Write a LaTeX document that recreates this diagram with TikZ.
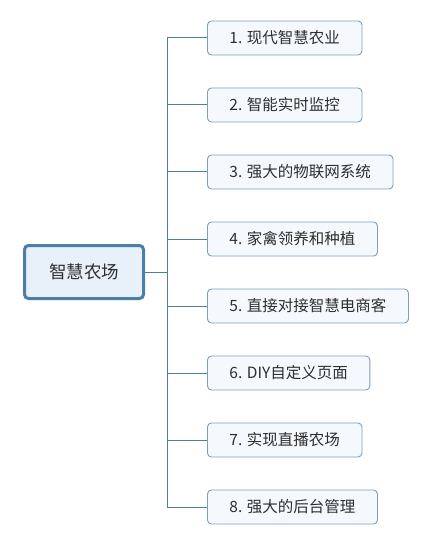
\documentclass[tikz,border=0pt]{standalone}
\usepackage{fontspec}
\setmainfont{Noto Sans CJK SC}
\usetikzlibrary{positioning}
\definecolor{rootline}{HTML}{4A7FA8}
\definecolor{rootfill}{HTML}{E8F1FA}
\definecolor{leafline}{HTML}{7E9FB8}
\definecolor{leaffill}{HTML}{F5F9FD}
\definecolor{wire}{HTML}{4F7F9A}
\definecolor{ink}{HTML}{2E2E2E}

\begin{document}
\begin{tikzpicture}[x=1pt,y=-1pt,font=\fontsize{15.5}{18}\selectfont,text=ink]
  \tikzset{rootbox/.style={draw=rootline,line width=3pt,fill=rootfill,rounded corners=4pt,minimum width=119pt,minimum height=53pt,font=\fontsize{17.5}{20}\selectfont}}
  \tikzset{leafbox/.style={draw=leafline,line width=0.9pt,fill=leaffill,rounded corners=4pt,minimum height=34pt,inner xsep=22pt,anchor=west}}
  \useasboundingbox (0,0) rectangle (430,545);
  \node[rootbox] (farm) at (84,272) {智慧农场};
  \coordinate (hub) at (167,272);
  \node[leafbox] (modern) at (207,38) {1. 现代智慧农业};
  \node[leafbox] (monitor) at (207,105) {2. 智能实时监控};
  \node[leafbox] (iot) at (207,172) {3. 强大的物联网系统};
  \node[leafbox] (poultry) at (207,239) {4. 家禽领养和种植};
  \node[leafbox] (ecom) at (207,306) {5. 直接对接智慧电商客};
  \node[leafbox] (diy) at (207,373) {6. DIY自定义页面};
  \node[leafbox] (live) at (207,440) {7. 实现直播农场};
  \node[leafbox] (admin) at (207,507) {8. 强大的后台管理};
  \draw[wire,line width=1pt] (farm.east) -- (hub);
  \foreach \leaf in {modern,monitor,iot,poultry,ecom,diy,live,admin}
    \draw[wire,line width=1pt] (hub) |- (\leaf.west);
\end{tikzpicture}
\end{document}
